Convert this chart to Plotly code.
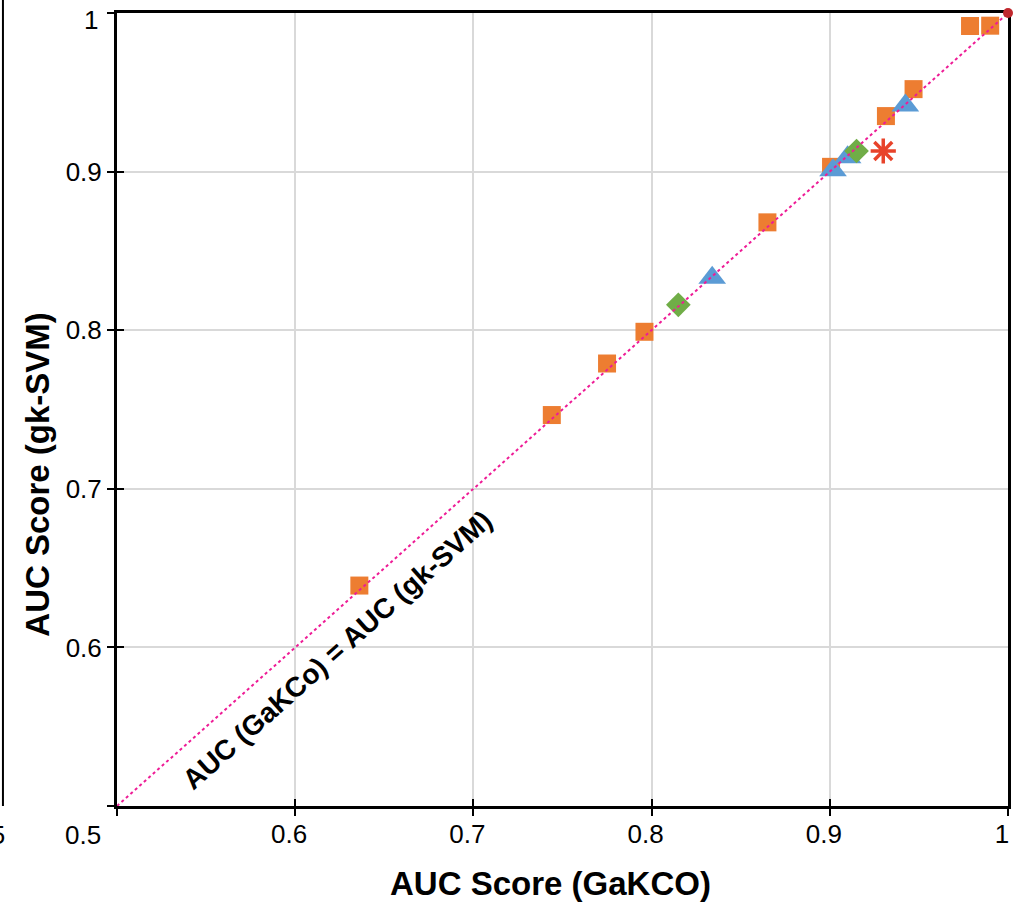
import plotly.graph_objects as go

# ---- data ----
sq_x = [0.636, 0.744, 0.775, 0.796, 0.865, 0.9007, 0.9315, 0.947, 0.9787, 0.990]
sq_y = [0.639, 0.7465, 0.779, 0.799, 0.868, 0.903, 0.935, 0.952, 0.9918, 0.992]
tri_x = [0.834, 0.9018, 0.910, 0.9424]
tri_y = [0.833, 0.9008, 0.909, 0.9417]
dia_x = [0.815, 0.915]
dia_y = [0.816, 0.913]
ast_x = [0.930]
ast_y = [0.913]
ref_x = [0.5, 1.0]
ref_y = [0.5, 1.0]
corner_x = [1.0]
corner_y = [1.0]
tick_vals = [0.5, 0.6, 0.7, 0.8, 0.9, 1.0]
x_tick_text = ["", "0.6", "0.7", "0.8", "0.9", "1"]
y_tick_text = ["", "0.6", "0.7", "0.8", "0.9", ""]

FONT = "Liberation Sans, Arial, sans-serif"

fig = go.Figure()

# diagonal reference line (drawn on the overlay axes, which carry the inner ticks)
fig.add_trace(go.Scatter(x=ref_x, y=ref_y, mode="lines", xaxis="x2", yaxis="y2",
                         line=dict(color="#EE1C96", width=2, dash="dot"),
                         hoverinfo="skip", showlegend=False))
fig.add_trace(go.Scatter(x=sq_x, y=sq_y, mode="markers",
                         marker=dict(symbol="square", size=18, color="#ED7D31",
                                     line=dict(width=0)), showlegend=False))
fig.add_trace(go.Scatter(x=tri_x, y=tri_y, mode="markers",
                         marker=dict(symbol="triangle-up", size=24, color="#5B9BD5",
                                     line=dict(width=0)), showlegend=False))
fig.add_trace(go.Scatter(x=dia_x, y=dia_y, mode="markers",
                         marker=dict(symbol="diamond", size=19, color="#70AD47",
                                     line=dict(width=0)), showlegend=False))
fig.add_trace(go.Scatter(x=ast_x, y=ast_y, mode="markers",
                         marker=dict(symbol="asterisk-open", size=21, color="#E8432A",
                                     line=dict(width=3.5, color="#E8432A")), showlegend=False))
fig.add_trace(go.Scatter(x=corner_x, y=corner_y, mode="markers", cliponaxis=False,
                         xaxis="x2", yaxis="y2",
                         marker=dict(symbol="circle", size=10, color="#C0282D",
                                     line=dict(width=0)),
                         showlegend=False))

axis_common = dict(range=[0.5, 1.0], tickvals=tick_vals,
                   showline=True, linecolor="black", linewidth=3,
                   ticks="outside", ticklen=7, tickwidth=2, tickcolor="black",
                   zeroline=False, automargin=False, mirror=True, layer="below traces",
                   showgrid=True, gridcolor="#D9D9D9", gridwidth=2,
                   ticklabeloverflow="allow",
                   tickfont=dict(family=FONT, size=26, color="black"))

fig.update_layout(
    width=1019, height=904,
    margin=dict(l=117, r=11, t=13, b=98, autoexpand=False),
    paper_bgcolor="white", plot_bgcolor="white",
    xaxis=dict(**axis_common, ticktext=x_tick_text, ticklabelshift=-6, ticklabelstandoff=-4),
    yaxis=dict(**axis_common, ticktext=y_tick_text),
    xaxis2=dict(range=[0.5, 1.0], overlaying="x", tickvals=tick_vals, showticklabels=False,
                ticks="inside", ticklen=7, tickwidth=2, tickcolor="black",
                showgrid=False, zeroline=False, showline=False, layer="below traces"),
    yaxis2=dict(range=[0.5, 1.0], overlaying="y", tickvals=tick_vals, showticklabels=False,
                ticks="inside", ticklen=7, tickwidth=2, tickcolor="black",
                showgrid=False, zeroline=False, showline=False, layer="below traces"),
    showlegend=False,
)

# axis titles (placed as in the reference, slightly off-centre)
fig.add_annotation(x=0.486, y=-0.0971, xref="paper", yref="paper",
                   text="<b>AUC Score (GaKCO)</b>", showarrow=False,
                   xanchor="center", yanchor="middle",
                   font=dict(family=FONT, size=33, color="black"))
fig.add_annotation(x=-0.0887, y=0.419, xref="paper", yref="paper",
                   text="<b>AUC Score (gk-SVM)</b>", showarrow=False, textangle=-90,
                   xanchor="center", yanchor="middle",
                   font=dict(family=FONT, size=33, color="black"))

# diagonal label
fig.add_annotation(x=0.624, y=0.5985, xref="x", yref="y", text="<b>AUC (GaKCo) = AUC (gk-SVM)</b>",
                   showarrow=False, textangle=-41.7,
                   font=dict(family=FONT, size=28, color="black"))
# y "1" label sits a little below the top corner
fig.add_annotation(x=0, y=1, xref="paper", yref="paper", text="1", showarrow=False,
                   xanchor="right", yanchor="middle", xshift=-17, yshift=-7,
                   font=dict(family=FONT, size=26, color="black"))
# shared "0.5" corner label
fig.add_annotation(x=0.5, y=0.5, xref="x", yref="y", text="0.5", showarrow=False,
                   xanchor="right", yanchor="top", xshift=-14, yshift=-12,
                   font=dict(family=FONT, size=26, color="black"))
# remnants of the neighbouring panel at the left edge
fig.add_shape(type="line", xref="paper", yref="paper", x0=-0.128, x1=-0.128, y0=0.0, y1=1.02,
              line=dict(color="black", width=2))
fig.add_annotation(xref="paper", yref="paper", x=-0.124, y=-0.015, text="0.5", showarrow=False,
                   xanchor="right", yanchor="top",
                   font=dict(family=FONT, size=26, color="black"))

fig.write_html("out.html", post_script="document.body.style.margin='0px';",
               config={"displayModeBar": False})
